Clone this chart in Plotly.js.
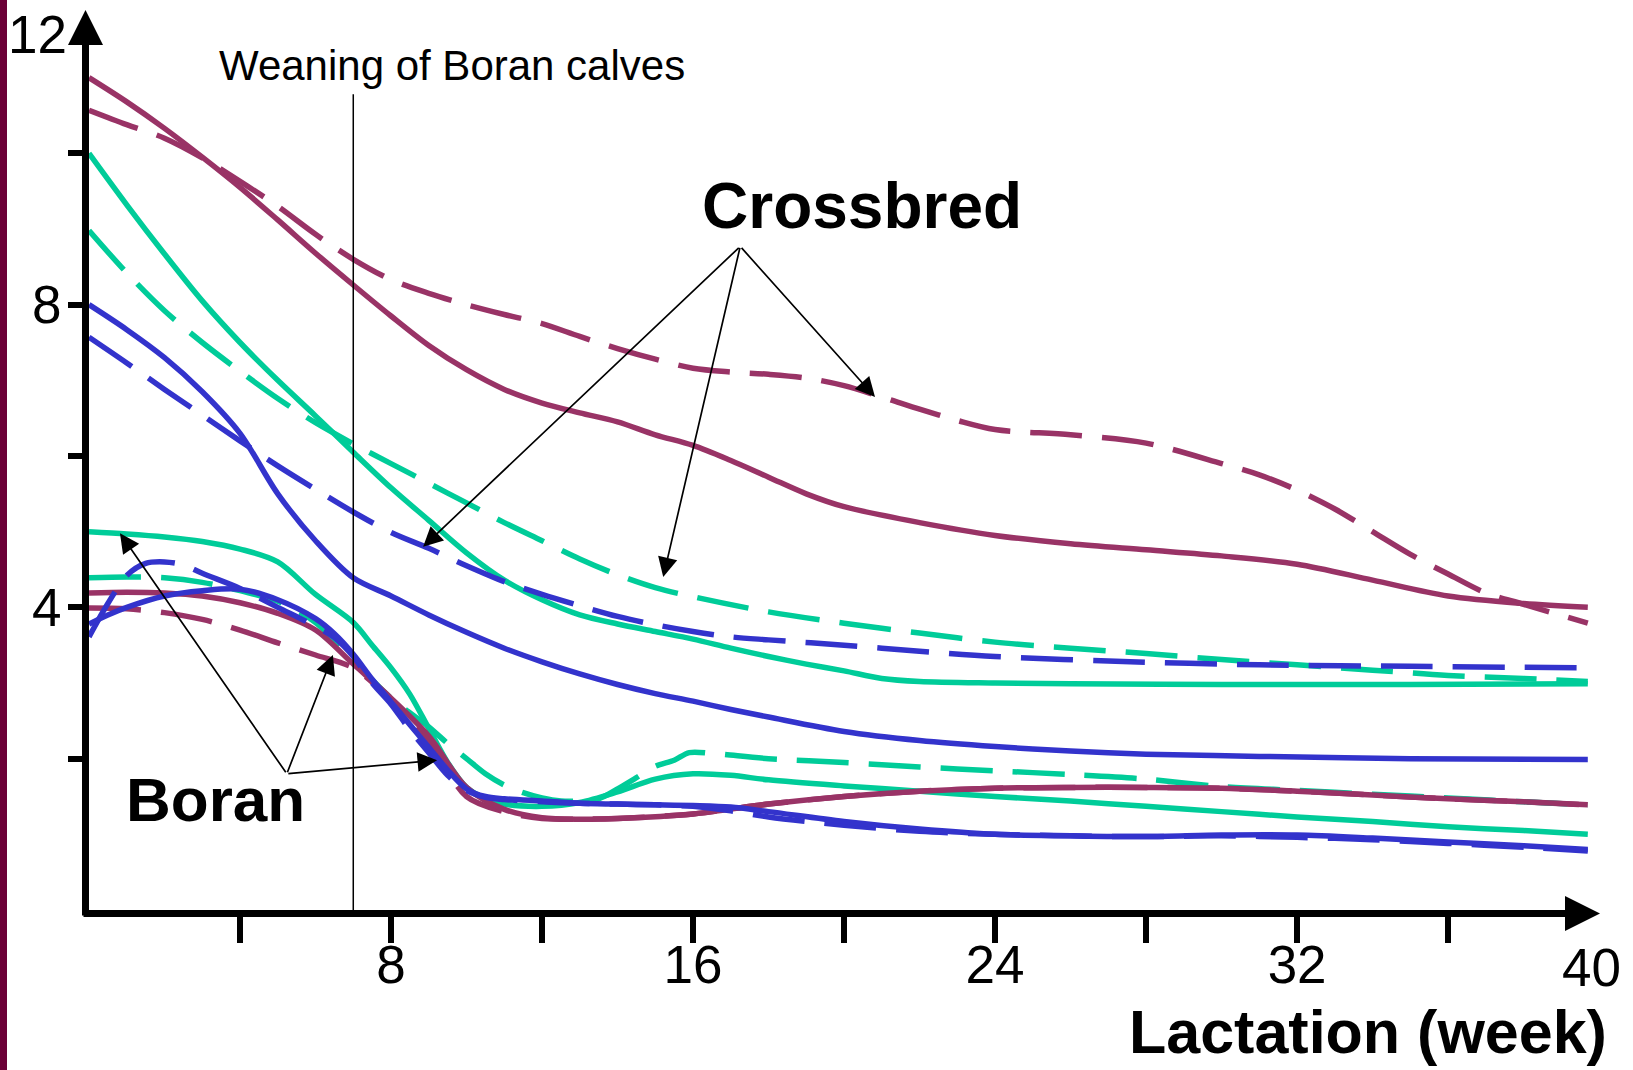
<!DOCTYPE html>
<html>
<head>
<meta charset="utf-8">
<script src="https://cdn.plot.ly/plotly-3.0.1.min.js"></script>
<style>
  html, body { margin: 0; padding: 0; background: #ffffff; }
  #chart { width: 1633px; height: 1070px; }
</style>
</head>
<body>
<div id="chart"></div>
<script>
// ---------- data (week of lactation, milk value) ----------
// Crossbred
const cbMaroonSolidWeek = [0,1,2,3,4,5,6,7,8,9,10,11,12,13,14,15,16,17,18,19,20,22,24,26,28,30,32,34,36,38,39.7];
const cbMaroonSolidVal  = [11.0,10.68,10.33,9.95,9.55,9.12,8.68,8.26,7.85,7.46,7.14,6.88,6.7,6.57,6.45,6.28,6.14,5.94,5.72,5.5,5.33,5.12,4.95,4.84,4.76,4.68,4.57,4.36,4.15,4.05,4.0];

const cbMaroonDashWeek = [0,1,2,3,4,5,6,7,8,9,10,11,12,13,14,15,16,17,18,19,20,21,22,23,24,26,28,30,31,32,33,34,35,36,37,38,39.7];
const cbMaroonDashVal  = [10.57,10.38,10.2,9.94,9.63,9.3,8.93,8.6,8.33,8.15,8.0,7.87,7.75,7.58,7.42,7.28,7.16,7.11,7.08,7.03,6.93,6.78,6.62,6.47,6.35,6.28,6.17,5.9,5.75,5.55,5.3,5.0,4.7,4.44,4.19,4.04,3.79];

const cbGreenSolidWeek = [0,1,2,3,4,5,6,7,8,9,10,11,12,13,14,15,16,17,18,19,20,21,22,24,26,30,35,39.7];
const cbGreenSolidVal  = [10.0,9.32,8.67,8.05,7.5,7.0,6.53,6.05,5.58,5.15,4.72,4.36,4.1,3.9,3.78,3.68,3.58,3.46,3.35,3.25,3.16,3.06,3.02,3.0,2.99,2.98,2.98,2.99];

const cbGreenDashWeek = [0,1,2,3,4,5,6,7,8,9,10,11,12,13,14,15,16,18,20,22,24,26,28,30,32,34,36,38,39.7];
const cbGreenDashVal  = [8.98,8.42,7.92,7.5,7.12,6.76,6.44,6.16,5.9,5.64,5.38,5.12,4.88,4.64,4.43,4.26,4.14,3.94,3.79,3.66,3.54,3.46,3.39,3.31,3.24,3.17,3.1,3.06,3.02];

const cbBlueSolidWeek = [0,1,2,3,4,5,6,7,8,9,10,11,12,13,14,15,16,17,18,20,22,24,26,28,31,35,39.7];
const cbBlueSolidVal  = [8.0,7.67,7.3,6.85,6.3,5.5,4.88,4.39,4.15,3.9,3.67,3.46,3.28,3.12,2.98,2.86,2.76,2.65,2.55,2.36,2.24,2.16,2.1,2.06,2.03,2.0,1.99];

const cbBlueDashWeek = [0,1,2,3,4,5,6,7,8,9,10,11,12,13,14,15,16,17,18,20,22,24,27,31,35,39.7];
const cbBlueDashVal  = [7.57,7.23,6.88,6.54,6.2,5.87,5.56,5.26,4.99,4.78,4.55,4.34,4.17,4.02,3.88,3.77,3.68,3.61,3.57,3.5,3.42,3.35,3.29,3.24,3.22,3.2];

// Boran
const boMaroonSolidWeek = [0,1,2,3,4,5,6,7,8,9,10,11,12,13,14,16,18,20,22,24,26,28,30,32,34,36,38,39.7];
const boMaroonSolidVal  = [4.19,4.2,4.19,4.15,4.06,3.92,3.7,3.25,2.8,2.3,1.62,1.33,1.22,1.2,1.21,1.27,1.4,1.5,1.57,1.61,1.62,1.62,1.61,1.57,1.52,1.47,1.43,1.39];

const boMaroonDashWeek = [0,1,2,3,4,5,6,7,8,9,10,11,12,13,14,16,18,20,22,24,26,28,30,32,34,36,38,39.7];
const boMaroonDashVal  = [3.99,3.98,3.93,3.84,3.7,3.53,3.37,3.2,2.78,2.25,1.5,1.3,1.21,1.2,1.21,1.27,1.4,1.5,1.57,1.61,1.62,1.62,1.61,1.57,1.52,1.47,1.43,1.39];

const boGreenSolidWeek = [0,1,2,3,4,5,6,7,7.5,8,8.5,9,9.5,10,10.5,11,12,13,14,15,16,17,18,20,22,24,26,28,30,32,34,36,38,39.7];
const boGreenSolidVal  = [5.0,4.97,4.93,4.87,4.77,4.6,4.17,3.8,3.5,3.2,2.85,2.4,1.95,1.62,1.47,1.4,1.37,1.42,1.56,1.73,1.8,1.78,1.72,1.64,1.57,1.5,1.44,1.37,1.3,1.23,1.17,1.1,1.05,1.0];

const boGreenDashWeek = [0,1,2,3,4,5,6,7,8,9,9.5,10,10.5,11,11.5,12,12.5,13,13.5,14,14.5,15,15.5,15.9,16.5,18,20,22,24,26,28,30,32,34,36,38,39.7];
const boGreenDashVal  = [4.39,4.4,4.39,4.33,4.22,4.08,3.8,3.3,2.8,2.42,2.2,2.0,1.8,1.65,1.55,1.48,1.44,1.44,1.47,1.6,1.75,1.9,1.98,2.08,2.07,2.0,1.95,1.89,1.84,1.79,1.73,1.63,1.58,1.53,1.48,1.43,1.39];

const boBlueSolidWeek = [0,0.5,1,2,3,4,5,6,6.5,7,7.5,8,8.5,9,9.5,10,10.5,11,12,13,14,15,16,17,18,20,22,24,26,28,30,32,34,36,38,39.7];
const boBlueSolidVal  = [3.78,3.9,4.0,4.15,4.22,4.24,4.1,3.85,3.65,3.38,3.05,2.75,2.45,2.15,1.85,1.6,1.5,1.47,1.44,1.41,1.4,1.39,1.38,1.36,1.3,1.17,1.07,1.0,0.98,0.97,0.99,0.99,0.95,0.9,0.85,0.8];

const boBlueDashWeek = [0,0.5,1,1.5,2,2.5,3,4,5,6,6.5,7,7.5,8,8.5,9,9.5,10,10.5,11,12,13,14,15,16,17,18,19,20,22,24,26,28,30,32,34,36,38,39.7];
const boBlueDashVal  = [3.61,4.05,4.42,4.58,4.6,4.56,4.45,4.25,4.0,3.75,3.6,3.35,3.0,2.72,2.38,2.08,1.78,1.58,1.49,1.46,1.43,1.41,1.4,1.39,1.37,1.31,1.23,1.17,1.12,1.04,1.0,0.98,0.97,0.98,0.96,0.93,0.88,0.83,0.78];

// tick labels
const xTickVals = [4,8,12,16,20,24,28,32,36];
const xTickText = ['', '8', '', '16', '', '24', '', '32', ''];
const yTickVals = [2,4,6,8,10];
const yTickText = ['', '4', '', '8', ''];
const yTopLabel = '12';
const xEndLabel = '40';

// weaning week
const weaningWeek = 7;

// ---------- styles ----------
const MAROON = '#993366', GREEN = '#00CC99', BLUE = '#3333CC';
const LW = 5.5;
const DASH = '52px,20px';
const FONT = 'Arial, "Liberation Sans", Helvetica, sans-serif';

// plot geometry (pixels)
const W = 1633, H = 1070;
const ML = 89, MR = 15, MT = 2, MB = 160;
const PW = W - ML - MR, PH = H - MT - MB;
const px2paperX = p => (p - ML) / PW;
const px2paperY = p => (H - MB - p) / PH;

function tr(x, y, color, dashed) {
  return {
    x: x, y: y, type: 'scatter', mode: 'lines',
    line: { color: color, width: LW, dash: dashed ? DASH : 'solid', shape: 'spline', smoothing: 0.9 },
    hoverinfo: 'skip', showlegend: false
  };
}

const data = [
  tr(boMaroonDashWeek, boMaroonDashVal, MAROON, true),
  tr(boGreenDashWeek, boGreenDashVal, GREEN, true),
  tr(boGreenSolidWeek, boGreenSolidVal, GREEN, false),
  tr(boMaroonSolidWeek, boMaroonSolidVal, MAROON, false),
  tr(boBlueDashWeek, boBlueDashVal, BLUE, true),
  tr(boBlueSolidWeek, boBlueSolidVal, BLUE, false),
  tr(cbGreenSolidWeek, cbGreenSolidVal, GREEN, false),
  tr(cbGreenDashWeek, cbGreenDashVal, GREEN, true),
  tr(cbBlueSolidWeek, cbBlueSolidVal, BLUE, false),
  tr(cbBlueDashWeek, cbBlueDashVal, BLUE, true),
  tr(cbMaroonSolidWeek, cbMaroonSolidVal, MAROON, false),
  tr(cbMaroonDashWeek, cbMaroonDashVal, MAROON, true)
];

function arrow(hx, hy, tx, ty) {
  return {
    x: hx, y: hy, ax: tx, ay: ty, xref: 'x', yref: 'y', axref: 'x', ayref: 'y',
    text: '', showarrow: true, arrowhead: 2, arrowsize: 2.3, arrowwidth: 1.7,
    arrowcolor: '#000000', standoff: 0, startstandoff: 0
  };
}

const axisX = 85.5, axisY = 913.5;   // axis line centres (px)
const annotations = [
  // y axis with arrow head
  { x: px2paperX(axisX), y: px2paperY(10), xref: 'paper', yref: 'paper',
    ax: 0, ay: axisY + 3.5 - 10, text: '', showarrow: true, arrowhead: 2, arrowsize: 1,
    arrowwidth: 7, arrowcolor: '#000', standoff: 0 },
  // x axis with arrow head
  { x: px2paperX(1600), y: px2paperY(axisY), xref: 'paper', yref: 'paper',
    ax: -(1600 - axisX + 3.5), ay: 0, text: '', showarrow: true, arrowhead: 2, arrowsize: 1,
    arrowwidth: 7, arrowcolor: '#000', standoff: 0 },
  // extra tick labels
  { x: px2paperX(37.5), y: px2paperY(34), xref: 'paper', yref: 'paper', text: yTopLabel, showarrow: false,
    font: { family: FONT, size: 53, color: '#000' }, xanchor: 'center', yanchor: 'middle' },
  { x: px2paperX(1591), y: px2paperY(967), xref: 'paper', yref: 'paper', text: xEndLabel, showarrow: false,
    font: { family: FONT, size: 53, color: '#000' }, xanchor: 'center', yanchor: 'middle' },
  // texts
  { x: 3.39, y: 11.16, xref: 'x', yref: 'y', text: 'Weaning of Boran calves', showarrow: false,
    font: { family: FONT, size: 42, color: '#000' }, xanchor: 'left', yanchor: 'middle' },
  { x: 20.48, y: 9.30, xref: 'x', yref: 'y', text: '<b>Crossbred</b>', showarrow: false,
    font: { family: FONT, size: 64, color: '#000' }, xanchor: 'center', yanchor: 'middle' },
  { x: 3.36, y: 1.46, xref: 'x', yref: 'y', text: '<b>Boran</b>', showarrow: false,
    font: { family: FONT, size: 62, color: '#000' }, xanchor: 'center', yanchor: 'middle' },
  { x: px2paperX(1609), y: px2paperY(1032), xref: 'paper', yref: 'paper', text: '<b>Lactation (week)</b>', showarrow: false,
    font: { family: FONT, size: 61, color: '#000' }, xanchor: 'right', yanchor: 'middle' },
  // Crossbred arrows
  arrow(20.82, 6.78, 17.25, 8.77),
  arrow(15.21, 4.40, 17.25, 8.77),
  arrow(8.85, 4.80, 17.25, 8.77),
  // Boran arrows
  arrow(0.82, 4.98, 5.24, 1.80),
  arrow(6.46, 3.37, 5.24, 1.80),
  arrow(9.22, 1.98, 5.24, 1.80)
];

const shapes = [
  // weaning line
  { type: 'line', xref: 'x', yref: 'y', x0: weaningWeek, x1: weaningWeek, y0: 0, y1: 10.78,
    line: { color: '#000', width: 1.5 } },
  // left border bar
  { type: 'rect', xref: 'paper', yref: 'paper', x0: px2paperX(0), x1: px2paperX(7), y0: px2paperY(1075), y1: px2paperY(-5),
    fillcolor: '#6b0037', line: { width: 0 } }
];

const layout = {
  width: W, height: H,
  margin: { l: ML, r: MR, t: MT, b: MB, pad: 0 },
  paper_bgcolor: '#ffffff', plot_bgcolor: '#ffffff',
  showlegend: false,
  font: { family: FONT, color: '#000' },
  xaxis: {
    range: [0, 40.5], showgrid: false, zeroline: false, showline: false,
    ticks: 'outside', ticklen: 32, tickwidth: 6, tickcolor: '#000',
    tickvals: xTickVals, ticktext: xTickText, ticklabelstandoff: -24,
    tickfont: { family: FONT, size: 53, color: '#000' }
  },
  yaxis: {
    range: [0, 12], showgrid: false, zeroline: false, showline: false,
    ticks: 'outside', ticklen: 20, tickwidth: 6, tickcolor: '#000',
    tickvals: yTickVals, ticktext: yTickText, ticklabelstandoff: -4,
    tickfont: { family: FONT, size: 53, color: '#000' }
  },
  annotations: annotations,
  shapes: shapes
};

Plotly.newPlot('chart', data, layout, { staticPlot: true, displayModeBar: false });
</script>
</body>
</html>
